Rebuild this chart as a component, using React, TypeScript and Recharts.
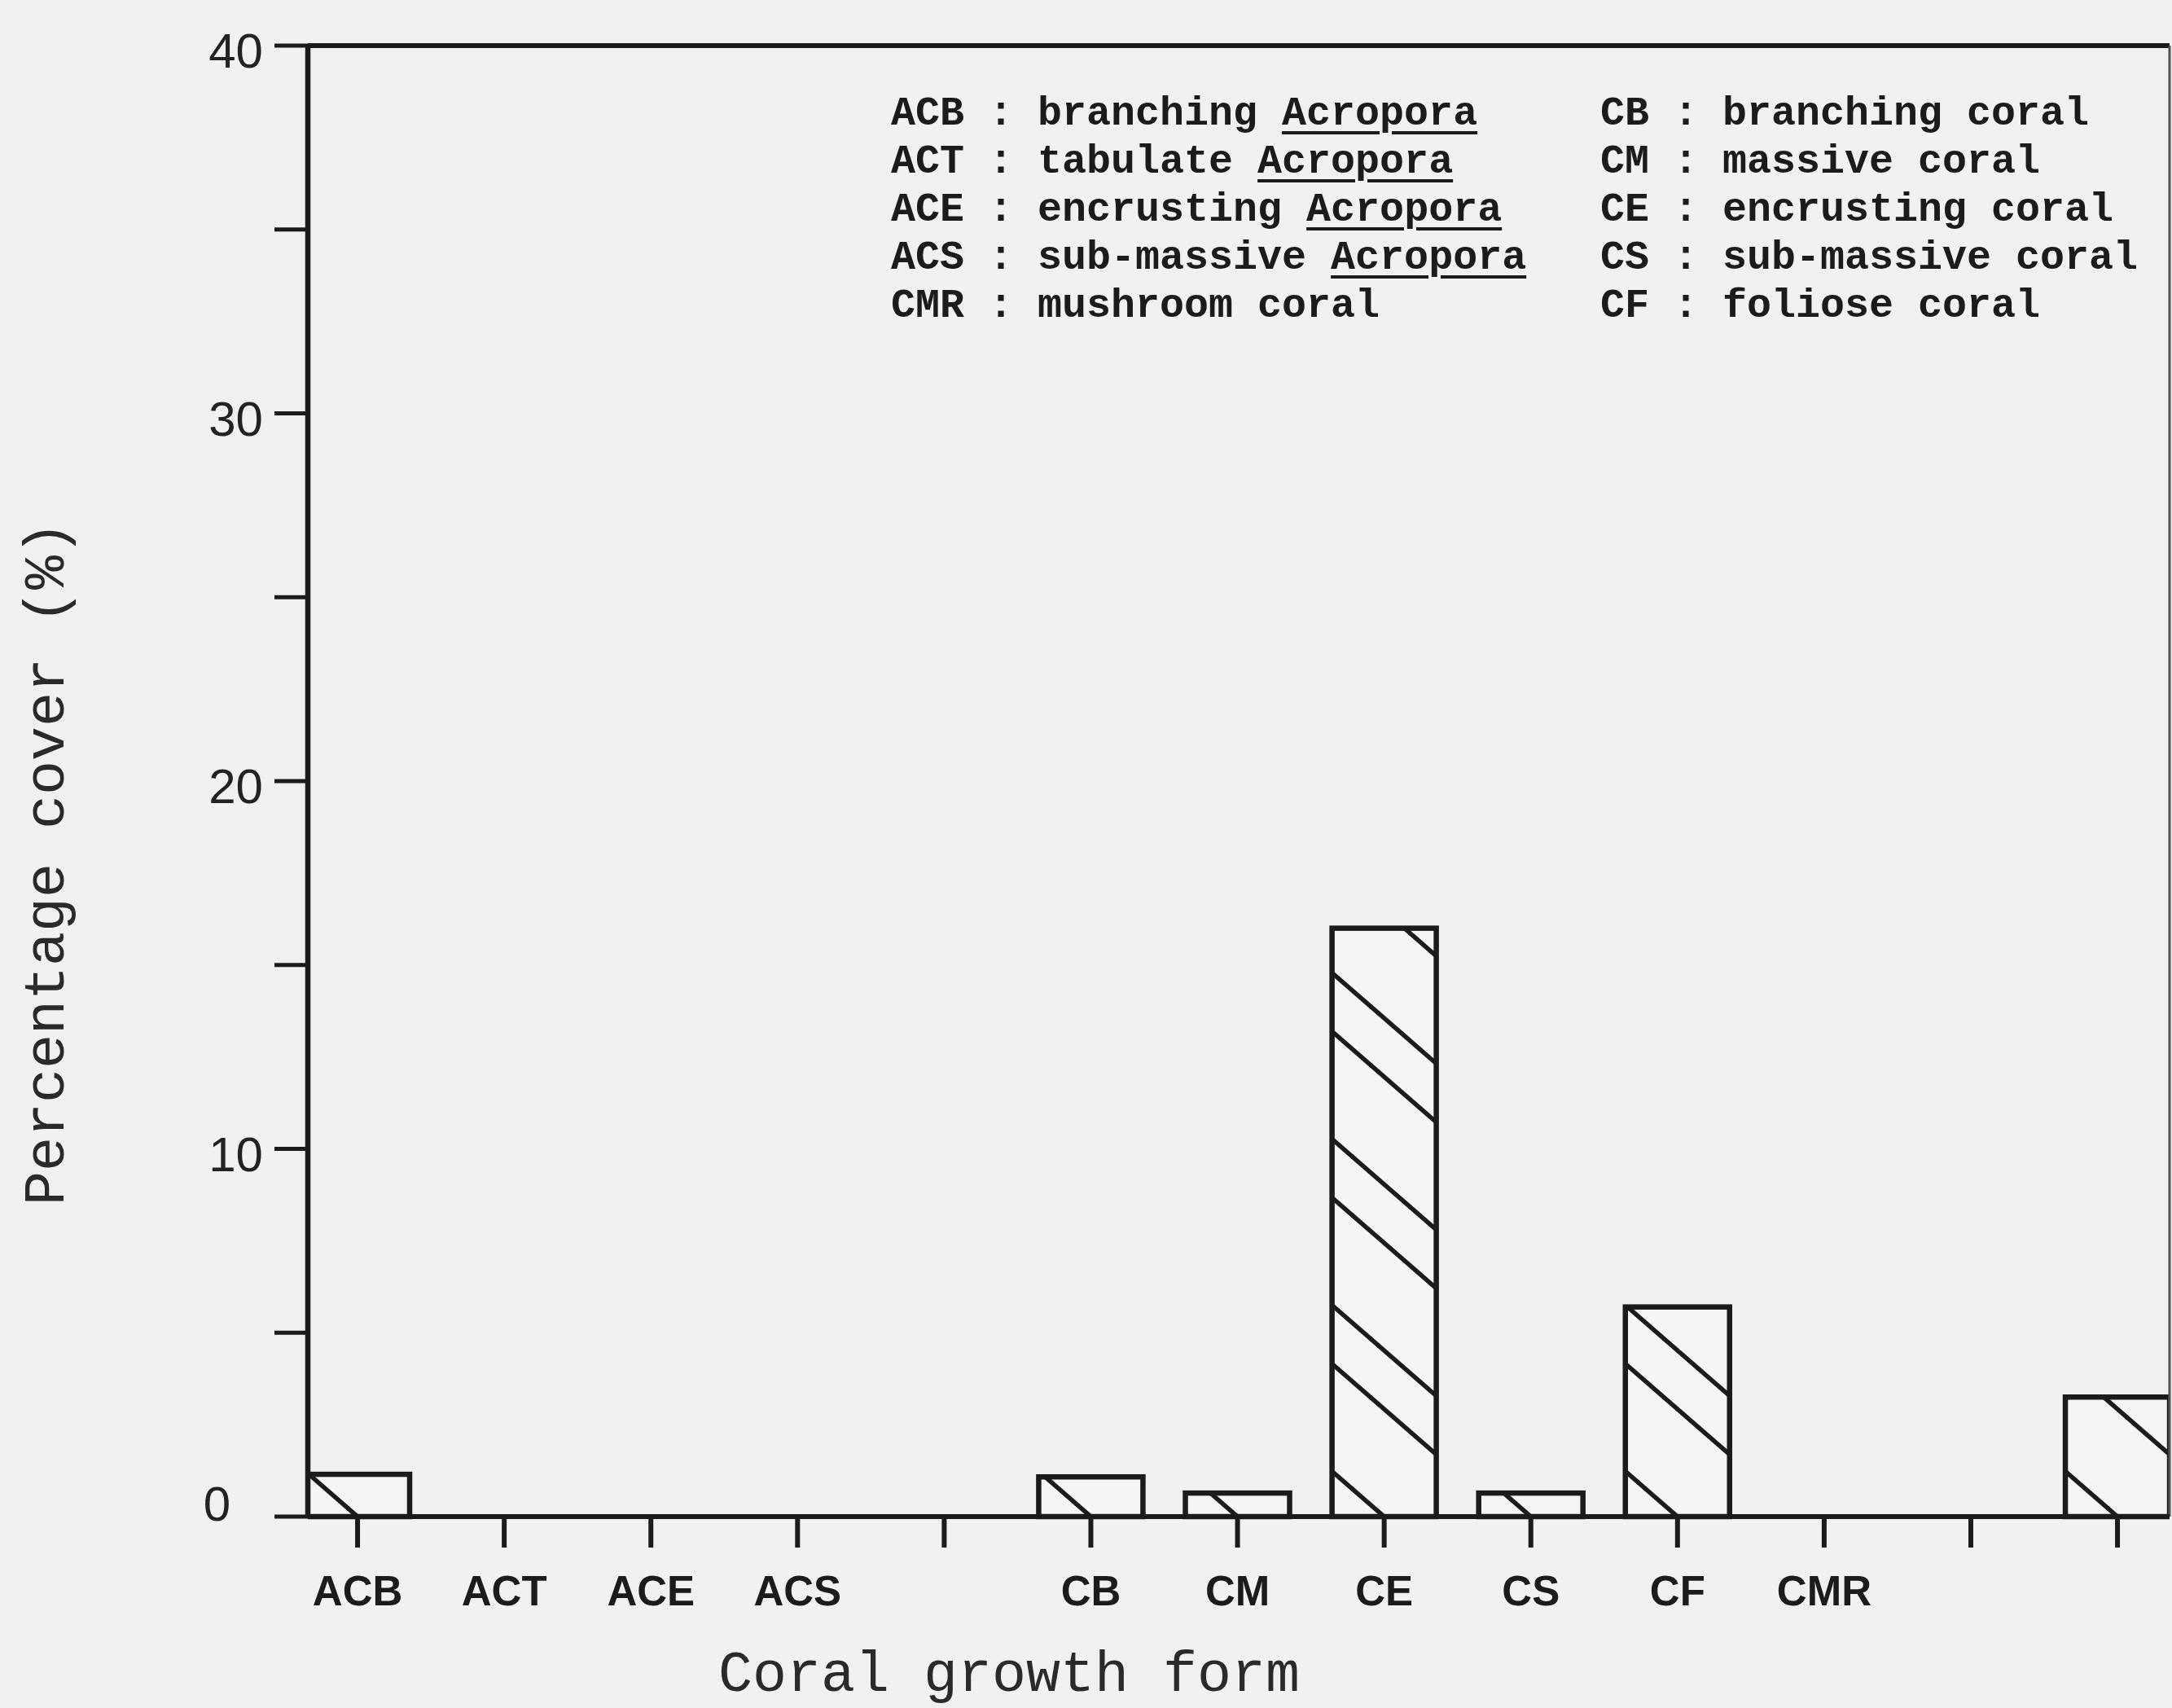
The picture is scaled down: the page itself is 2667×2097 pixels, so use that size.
import React from "react";
import { BarChart, Bar, XAxis, YAxis, ReferenceLine, Legend } from "recharts";

const categories = ["ACB", "ACT", "ACE", "ACS", "", "CB", "CM", "CE", "CS", "CF", "CMR", "", ""];
const positions = [1, 2, 3, 4, 5, 6, 7, 8, 9, 10, 11, 12, 13];
const cover = [1.15, 0, 0, 0, 0, 1.08, 0.64, 16.0, 0.64, 5.7, 0, 0, 3.25];

const yTicks = [0, 5, 10, 15, 20, 25, 30, 35, 40];

const legendLeft = [
	["ACB", "branching", "Acropora"],
	["ACT", "tabulate", "Acropora"],
	["ACE", "encrusting", "Acropora"],
	["ACS", "sub-massive", "Acropora"],
	["CMR", "mushroom coral", ""],
];
const legendRight = [
	["CB", "branching coral"],
	["CM", "massive coral"],
	["CE", "encrusting coral"],
	["CS", "sub-massive coral"],
	["CF", "foliose coral"],
];

const data = positions.map((p, i) => ({ pos: p, label: categories[i], cover: cover[i] }));

const ink = "#1b1b1b";
const paper = "#f1f1ef";
const mono = "'Courier New', 'Liberation Mono', monospace";

// hatch lines: pairs of "\" lines anchored at the bar centre on the baseline
const SLOPE = 0.87;
const PERIOD = 204;
const PAIR = 132;

const HatchBar = (props: any) => {
	const { x, y, width, height, index } = props;
	if (!height || height <= 0) return <g />;
	const base = y + height;
	const cx = x + width / 2;
	const id = `hatch-clip-${index}`;
	const lines: any[] = [];
	const x1 = x - 10;
	const x2 = x + width + 10;
	for (let k = 0; k * PERIOD < height + 250; k++) {
		[k * PERIOD, k * PERIOD + PAIR].forEach((o) => {
			lines.push(
				<line
					key={o}
					x1={x1}
					y1={base - o + SLOPE * (x1 - cx)}
					x2={x2}
					y2={base - o + SLOPE * (x2 - cx)}
				/>
			);
		});
	}
	return (
		<g>
			<defs>
				<clipPath id={id}>
					<rect x={x} y={y} width={width} height={height} />
				</clipPath>
			</defs>
			<rect x={x} y={y} width={width} height={height} fill="#f5f5f3" />
			<g clipPath={`url(#${id})`} stroke={ink} strokeWidth={5.5}>
				{lines}
			</g>
			<rect x={x} y={y} width={width} height={height} fill="none" stroke={ink} strokeWidth={6.5} />
		</g>
	);
};

const YTick = (props: any) => {
	const { x, y, payload } = props;
	const v = payload.value;
	if (v % 10 !== 0) return <g />;
	const zero = v === 0;
	return (
		<text
			x={x + (zero ? -40 : 0)}
			y={y + (zero ? -16 : 6)}
			dy="0.35em"
			textAnchor="end"
			fontFamily="'Liberation Sans', Arial, sans-serif"
			fontSize={60}
			fill="#222"
		>
			{v}
		</text>
	);
};

const XTick = (props: any) => {
	const { x, y, payload } = props;
	const label = categories[positions.indexOf(payload.value)] || "";
	return (
		<text
			x={x}
			y={y}
			dy="0.71em"
			textAnchor="middle"
			fontFamily="'Liberation Sans', Arial, sans-serif"
			fontWeight="bold"
			fontSize={51}
			fill={ink}
		>
			{label}
		</text>
	);
};

const YTitle = () => (
	<text
		x={78}
		y={1060}
		transform="rotate(-90, 78, 1060)"
		textAnchor="middle"
		fontFamily={mono}
		fontSize={70}
		fill="#2a2a2a"
	>
		Percentage cover (%)
	</text>
);

const XTitle = () => (
	<text x={1239} y={2076} textAnchor="middle" fontFamily={mono} fontSize={70} fill="#2a2a2a">
		Coral growth form
	</text>
);

const Key = () => (
	<div
		style={{
			display: "flex",
			fontFamily: mono,
			fontWeight: "bold",
			fontSize: 50,
			lineHeight: "59px",
			color: ink,
			whiteSpace: "pre",
		}}
	>
		<div style={{ width: 871 }}>
			{legendLeft.map((r) => (
				<div key={r[0]}>
					{r[0]} : {r[1]}
					{r[2] ? " " : ""}
					{r[2] ? (
						<span
							style={{
								textDecoration: "underline",
								textDecorationThickness: "4px",
								textUnderlineOffset: "8px",
							}}
						>
							{r[2]}
						</span>
					) : null}
				</div>
			))}
		</div>
		<div>
			{legendRight.map((r) => (
				<div key={r[0]}>
					{r[0]} : {r[1]}
				</div>
			))}
		</div>
	</div>
);

export default function App() {
	return (
		<div
			style={{
				position: "absolute",
				left: 0,
				top: 0,
				width: 2667,
				height: 2097,
				overflow: "hidden",
				background: paper,
			}}
		>
			<BarChart
				width={2667}
				height={2097}
				data={data}
				margin={{ top: 56, right: 3, left: 0, bottom: 0 }}
			>
				<XAxis
					dataKey="pos"
					type="number"
					domain={[0.661, 13.355]}
					allowDataOverflow
					ticks={positions}
					interval={0}
					height={235}
					tickSize={38}
					tickMargin={35}
					tick={<XTick />}
					axisLine={{ stroke: ink, strokeWidth: 6 }}
					tickLine={{ stroke: ink, strokeWidth: 6 }}
					label={<XTitle />}
				/>
				<YAxis
					type="number"
					domain={[0, 40]}
					ticks={yTicks}
					interval={0}
					width={378}
					tickSize={41}
					tickMargin={14}
					tick={<YTick />}
					axisLine={{ stroke: ink, strokeWidth: 6.5 }}
					tickLine={{ stroke: ink, strokeWidth: 5 }}
					label={<YTitle />}
				/>
				<ReferenceLine y={40} stroke={ink} strokeWidth={6} />
				<ReferenceLine x={13.355} stroke="#555" strokeWidth={3} />
				<Legend
					layout="vertical"
					align="center"
					verticalAlign="middle"
					content={() => <Key />}
					wrapperStyle={{ left: 1094, top: 110, width: 1560 }}
				/>
				<Bar
					dataKey="cover"
					barSize={128}
					shape={<HatchBar />}
					isAnimationActive={false}
				/>
			</BarChart>
		</div>
	);
}
